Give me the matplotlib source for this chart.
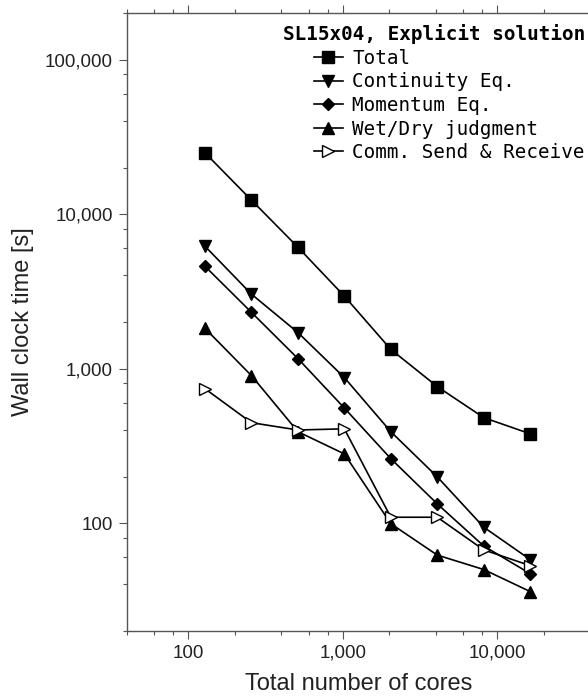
import numpy as np
import matplotlib.pyplot as plt
from matplotlib.ticker import FuncFormatter, LogLocator, NullFormatter

# values (log-log)
cores = [128, 256, 512, 1024, 2048, 4096, 8192, 16384]
total = [24900, 12300, 6100, 2940, 1330, 764, 481, 378]
continuity = [6190, 3030, 1710, 874, 390, 199, 94, 58]
momentum = [4590, 2310, 1160, 555, 261, 133, 71, 47]
wetdry = [1820, 900, 390, 280, 99, 62, 50, 36]
comm = [740, 446, 400, 407, 109, 109, 67, 53]

labels = ['Total', 'Continuity Eq.', 'Momentum Eq.', 'Wet/Dry judgment', 'Comm. Send & Receive']
markers = ['s', 'v', 'D', '^', '>']
sizes = [8, 8.5, 6.5, 8.5, 8.5]
faces = ['black', 'black', 'black', 'black', 'white']

plt.rcParams['font.family'] = ['Liberation Sans', 'DejaVu Sans']

fig = plt.figure(figsize=(5.88, 7.0), dpi=100)
ax = fig.add_axes([127/588, 69/700, 463/588, 618/700])

data = [total, continuity, momentum, wetdry, comm]
for i in range(len(data)):
    ax.plot(cores, data[i], color='black', lw=1.2, marker=markers[i],
            ms=sizes[i], mfc=faces[i], mec='black', mew=1.0, label=labels[i])

ax.set_xscale('log')
ax.set_yscale('log')
ax.set_xlim(40, 40000)
ax.set_ylim(20, 200000)

fmt = FuncFormatter(lambda v, p: '{:,.0f}'.format(v))
for axis in [ax.xaxis, ax.yaxis]:
    axis.set_major_locator(LogLocator(base=10, numticks=20))
    axis.set_minor_locator(LogLocator(base=10, subs=(2, 4, 6, 8), numticks=20))
    axis.set_major_formatter(fmt)
    axis.set_minor_formatter(NullFormatter())

ax.spines['right'].set_visible(False)
for s in ['left', 'bottom', 'top']:
    ax.spines[s].set_color('#555555')
    ax.spines[s].set_linewidth(1.0)

ax.tick_params(which='both', direction='out', color='#555555', width=0.8,
               top=True, right=False, labelsize=13.5, labelcolor='#222222')
ax.tick_params(which='major', length=6, pad=4)
ax.tick_params(which='minor', length=3)

ax.set_xlabel('Total number of cores', fontsize=17, color='#222222', labelpad=8)
ax.set_ylabel('Wall clock time [s]', fontsize=17, color='#222222', labelpad=8)

leg = ax.legend(loc='upper right', bbox_to_anchor=(585/588, 1 - 24/700),
                bbox_transform=fig.transFigure, frameon=False,
                title='SL15x04, Explicit solution', alignment='right',
                prop={'family': 'DejaVu Sans Mono', 'size': 13.9},
                title_fontproperties={'family': 'DejaVu Sans Mono', 'size': 13.9, 'weight': 'bold'},
                handlelength=1.5, handletextpad=0.5, labelspacing=0.24,
                borderpad=0, borderaxespad=0)

fig.savefig('out.png', dpi=100)
